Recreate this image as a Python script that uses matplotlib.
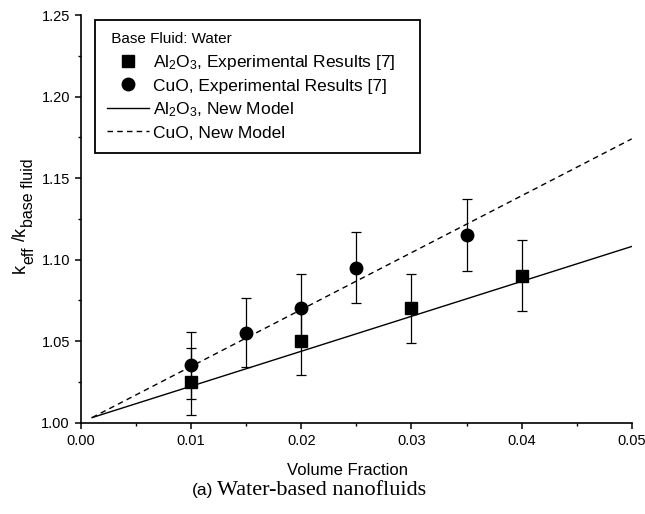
import matplotlib
matplotlib.use("Agg")
import matplotlib.pyplot as plt
from matplotlib.lines import Line2D
from matplotlib.ticker import MultipleLocator, FormatStrFormatter

# Measured thermal conductivity ratios (water-based nanofluids)
al2o3_phi = [0.01, 0.02, 0.03, 0.04]
al2o3_k = [1.025, 1.05, 1.07, 1.09]
al2o3_err = [0.0205, 0.021, 0.0214, 0.0218]

cuo_phi = [0.01, 0.015, 0.02, 0.025, 0.035]
cuo_k = [1.035, 1.055, 1.07, 1.095, 1.115]
cuo_err = [0.0207, 0.0211, 0.0214, 0.0219, 0.0223]

# New model predictions
model_phi = [0.001, 0.05]
al2o3_model = [1.003, 1.108]
cuo_model = [1.003, 1.174]

x_ticks = [0.00, 0.01, 0.02, 0.03, 0.04, 0.05]
y_ticks = [1.00, 1.05, 1.10, 1.15, 1.20, 1.25]

plt.rcParams["font.family"] = ["Liberation Sans", "DejaVu Sans"]
plt.rcParams["mathtext.default"] = "regular"

W, H = 645, 514
fig = plt.figure(figsize=(W / 100, H / 100), dpi=100)
ax = fig.add_axes([0.1256, 0.178, 0.8538, 0.7928])

ax.errorbar(al2o3_phi, al2o3_k, yerr=al2o3_err, fmt="s", color="black",
            ms=8, elinewidth=0.9, capsize=3.5, capthick=0.9)
ax.errorbar(cuo_phi, cuo_k, yerr=cuo_err, fmt="o", color="black",
            ms=9, elinewidth=0.9, capsize=3.5, capthick=0.9)
ax.plot(model_phi, al2o3_model, "-", color="black", lw=1.0)
ax.plot(model_phi, cuo_model, "--", color="black", lw=1.0, dashes=(4, 3))

ax.set_xlim(x_ticks[0], x_ticks[-1])
ax.set_ylim(y_ticks[0], y_ticks[-1])
ax.set_xticks(x_ticks)
ax.set_yticks(y_ticks)
ax.xaxis.set_minor_locator(MultipleLocator(0.005))
ax.yaxis.set_minor_locator(MultipleLocator(0.025))
ax.xaxis.set_major_formatter(FormatStrFormatter("%.2f"))
ax.yaxis.set_major_formatter(FormatStrFormatter("%.2f"))

ax.spines["top"].set_visible(False)
ax.spines["right"].set_visible(False)
for s in ("left", "bottom"):
    ax.spines[s].set_linewidth(1.2)
ax.tick_params(which="major", direction="out", length=4.5, width=1.1,
               labelsize=10.5)
ax.tick_params(which="minor", direction="out", length=2.5, width=1.0)

ax.set_xlabel("Volume Fraction", fontsize=12)
ax.xaxis.set_label_coords(0.483, -0.1)

# Legend with marker-only and line-only handles
handles = [
    Line2D([], [], marker="s", ms=8, ls="none", color="black"),
    Line2D([], [], marker="o", ms=9, ls="none", color="black"),
    Line2D([], [], ls="-", lw=1.0, color="black"),
    Line2D([], [], ls="--", lw=1.0, dashes=(4, 3), color="black"),
]
labels = [
    "Al$_2$O$_3$, Experimental Results [7]",
    "CuO, Experimental Results [7]",
    "Al$_2$O$_3$, New Model",
    "CuO, New Model",
]
leg = ax.legend(handles, labels, loc="upper left",
                bbox_to_anchor=(0.0254, 0.9877, 0.590, 0.0), mode="expand",
                borderaxespad=0, fontsize=12.5, title=" Base Fluid: Water",
                title_fontsize=11, alignment="left", fancybox=False,
                edgecolor="black", framealpha=1, handlelength=2.4,
                labelspacing=0.38, borderpad=0.7, handletextpad=0.25)
leg.get_frame().set_linewidth(1.3)

# y-axis label built from pieces so the subscripts stay near full size
renderer = fig.canvas.get_renderer()
pieces = [("k", 13, 25), ("eff", 11.5, 33), (" /", 13, 25), ("k", 13, 25),
          ("base fluid", 11.5, 33)]
y_disp = H - 273
for txt, size, x_px in pieces:
    t = fig.text(x_px / W, y_disp / H, txt, rotation=90,
                 rotation_mode="anchor", ha="left", va="baseline",
                 fontsize=size)
    y_disp += t.get_window_extent(renderer).height

fig.text(0.331, 0.046, "(a)", ha="right", va="center", fontsize=12.5)
fig.text(0.336, 0.046, "Water-based nanofluids", ha="left", va="center",
         fontsize=16, family="Liberation Serif")

fig.savefig("out.png", dpi=100)
